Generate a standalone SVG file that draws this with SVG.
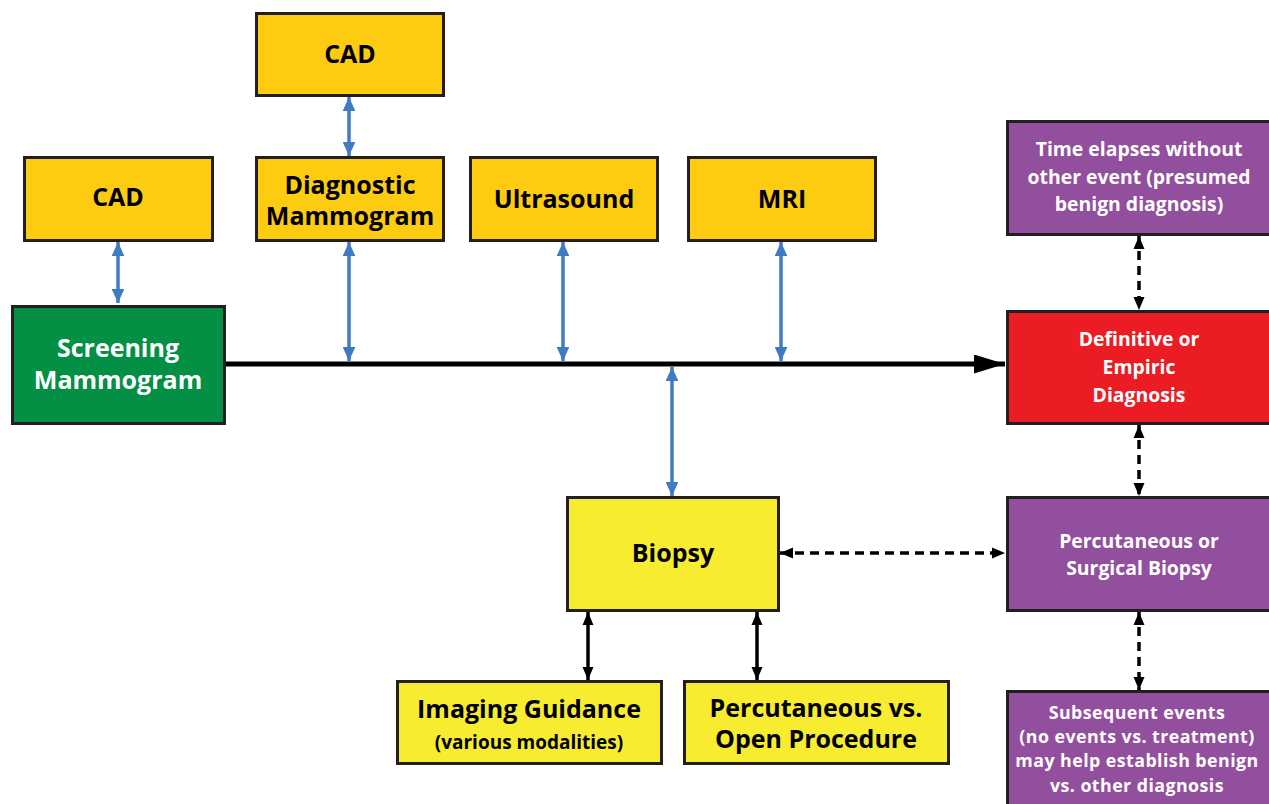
<svg xmlns="http://www.w3.org/2000/svg" width="1269" height="804" viewBox="0 0 1269 804">
<defs>
<style>
.box{stroke:#231f20;stroke-width:3}
.or{fill:#fdcb10}
.ye{fill:#f7ec2f}
.pu{fill:#924f9d}
.re{fill:#ec1c24}
.gr{fill:#038f44}
text{font-family:"Open Sans","Liberation Sans",sans-serif;font-weight:bold;text-anchor:middle}
.tb{fill:#000;font-size:25px}
.tw{fill:#fff;font-size:25px}
.ts{fill:#fff;font-size:19.4px}
.tss{fill:#fff;font-size:17.8px;letter-spacing:0.45px}
.blue{stroke:#3f7bc2;stroke-width:3.5;fill:none}
.blk{stroke:#000;stroke-width:3.5;fill:none}
.dash{stroke:#000;stroke-width:3.5;fill:none;stroke-dasharray:9 6}
</style>
<marker id="ab" viewBox="0 0 10 10" refX="10" refY="5" markerWidth="4" markerHeight="3.6" preserveAspectRatio="none" orient="auto-start-reverse" markerUnits="strokeWidth"><path d="M0,0 L10,5 L0,10 z" fill="#3f7bc2"/></marker>
<marker id="ak" viewBox="0 0 10 10" refX="10" refY="5" markerWidth="3.8" markerHeight="3.2" preserveAspectRatio="none" orient="auto-start-reverse" markerUnits="strokeWidth"><path d="M0,0 L10,5 L0,10 z" fill="#000"/></marker>
<marker id="am" viewBox="0 0 10 10" refX="10" refY="5" markerWidth="6.2" markerHeight="3.8" preserveAspectRatio="none" orient="auto" markerUnits="strokeWidth"><path d="M0,0 L10,5 L0,10 z" fill="#000"/></marker>
</defs>

<g id="connectors">
<line class="blk" x1="224" y1="364" x2="1005" y2="364" style="stroke-width:5" marker-end="url(#am)"/>
<line class="blue" x1="118" y1="242" x2="118" y2="303" marker-start="url(#ab)" marker-end="url(#ab)"/>
<line class="blue" x1="349" y1="97" x2="349" y2="156" marker-start="url(#ab)" marker-end="url(#ab)"/>
<line class="blue" x1="349" y1="242" x2="349" y2="361" marker-start="url(#ab)" marker-end="url(#ab)"/>
<line class="blue" x1="563" y1="242" x2="563" y2="361" marker-start="url(#ab)" marker-end="url(#ab)"/>
<line class="blue" x1="781" y1="242" x2="781" y2="361" marker-start="url(#ab)" marker-end="url(#ab)"/>
<line class="blue" x1="672" y1="367" x2="672" y2="496" marker-start="url(#ab)" marker-end="url(#ab)"/>
<line class="blk" x1="588" y1="612" x2="588" y2="680" marker-start="url(#ak)" marker-end="url(#ak)"/>
<line class="blk" x1="757" y1="612" x2="757" y2="680" marker-start="url(#ak)" marker-end="url(#ak)"/>
<line class="dash" x1="1139" y1="236" x2="1139" y2="310" marker-start="url(#ak)" marker-end="url(#ak)"/>
<line class="dash" x1="1139" y1="425" x2="1139" y2="496" marker-start="url(#ak)" marker-end="url(#ak)"/>
<line class="dash" x1="1139" y1="612" x2="1139" y2="690" marker-start="url(#ak)" marker-end="url(#ak)"/>
<line class="dash" x1="780" y1="553" x2="1005" y2="553" marker-start="url(#ak)" marker-end="url(#ak)"/>
</g>

<g id="cad-top"><rect class="box or" x="256.5" y="13.5" width="187" height="82"/><text class="tb" x="350" y="63">CAD</text></g>
<g id="cad-left"><rect class="box or" x="24.5" y="157.5" width="188" height="83"/><text class="tb" x="118" y="206">CAD</text></g>
<g id="diag-mammo"><rect class="box or" x="256.5" y="157.5" width="187" height="83"/><text class="tb" x="350" y="194">Diagnostic</text><text class="tb" x="350" y="225">Mammogram</text></g>
<g id="ultrasound"><rect class="box or" x="470.5" y="157.5" width="187" height="83"/><text class="tb" x="564" y="208">Ultrasound</text></g>
<g id="mri"><rect class="box or" x="688.5" y="157.5" width="187" height="83"/><text class="tb" x="782" y="208">MRI</text></g>
<g id="screening"><rect class="box gr" x="12.5" y="306.5" width="212" height="117"/><text class="tw" x="118" y="357">Screening</text><text class="tw" x="118" y="389">Mammogram</text></g>
<g id="definitive"><rect class="box re" x="1007.5" y="311.5" width="270" height="112"/><text class="ts" x="1139" y="346">Definitive or</text><text class="ts" x="1139" y="374">Empiric</text><text class="ts" x="1139" y="402">Diagnosis</text></g>
<g id="time-elapses"><rect class="box pu" x="1007.5" y="121.5" width="270" height="113"/><text class="ts" x="1139" y="156">Time elapses without</text><text class="ts" x="1139" y="184">other event (presumed</text><text class="ts" x="1139" y="211">benign diagnosis)</text></g>
<g id="perc-surg"><rect class="box pu" x="1007.5" y="497.5" width="270" height="113"/><text class="ts" x="1139" y="548">Percutaneous or</text><text class="ts" x="1139" y="575">Surgical Biopsy</text></g>
<g id="subsequent"><rect class="box pu" x="1007.5" y="691.5" width="270" height="120"/><text class="tss" x="1137" y="719">Subsequent events</text><text class="tss" x="1137" y="743.2">(no events vs. treatment)</text><text class="tss" x="1137" y="767.4">may help establish benign</text><text class="tss" x="1137" y="791.6">vs. other diagnosis</text></g>
<g id="biopsy"><rect class="box ye" x="567.5" y="497.5" width="211" height="113"/><text class="tb" x="673" y="562">Biopsy</text></g>
<g id="imaging"><rect class="box ye" x="397.5" y="681.5" width="264" height="82"/><text class="tb" x="529" y="718">Imaging Guidance</text><text class="tb" x="529" y="749" style="font-size:19px">(various modalities)</text></g>
<g id="perc-open"><rect class="box ye" x="684.5" y="681.5" width="264" height="82"/><text class="tb" x="816" y="717">Percutaneous vs.</text><text class="tb" x="816" y="748">Open Procedure</text></g>
</svg>
